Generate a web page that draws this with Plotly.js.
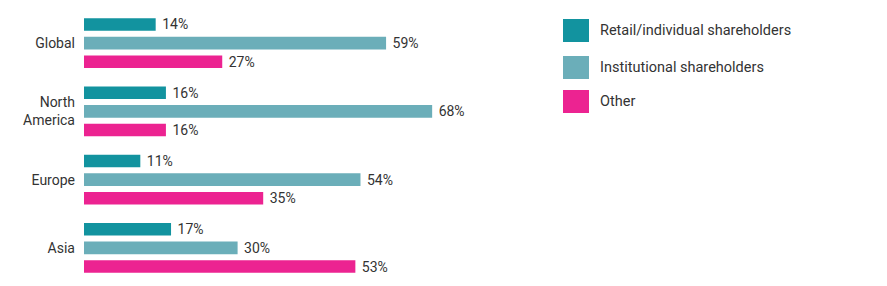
<!DOCTYPE html>
<html>
<head>
<meta charset="utf-8">
<script src="https://cdn.plot.ly/plotly-3.0.1.min.js"></script>
<style>html,body{margin:0;padding:0;background:#fff;}#chart{width:887px;height:286px;}</style>
</head>
<body>
<div id="chart"></div>
<script>
const categories = ["Global", "North<br>America", "Europe", "Asia"];
const seriesNames = ["Retail/individual shareholders", "Institutional shareholders", "Other"];
const retail = [14, 16, 11, 17];
const institutional = [59, 68, 54, 30];
const other = [27, 16, 35, 53];
const colors = ["#12939f", "#6baeb9", "#ec2391"];

const W = 887, H = 286;
const mL = 84, plotW = 384, mT = 9, mB = 4;
const plotH = H - mT - mB;
const px = v => (v - mL) / plotW;
const py = v => (H - mB - v) / plotH;

const values = [retail, institutional, other];
const traces = values.map((vals, i) => ({
  type: 'bar',
  orientation: 'h',
  name: seriesNames[i],
  y: categories,
  x: vals,
  marker: {color: colors[i]},
  text: vals.map(v => ' ' + v + '%'),
  textposition: 'outside',
  constraintext: 'none',
  textfont: {family: 'Roboto, sans-serif', size: 14, color: '#333333'},
  cliponaxis: false,
  hoverinfo: 'skip'
}));

const shapes = [], annotations = [];
const legendY = [19, 56, 90];
seriesNames.forEach((n, i) => {
  shapes.push({type: 'rect', xref: 'paper', yref: 'paper',
    x0: px(563), x1: px(589), y0: py(legendY[i] + 23), y1: py(legendY[i]),
    fillcolor: colors[i], line: {width: 0}});
  annotations.push({xref: 'paper', yref: 'paper', x: px(598), y: py(legendY[i] + 11.5),
    xanchor: 'left', yanchor: 'middle', text: n, showarrow: false,
    font: {family: 'Roboto, sans-serif', size: 14.5, color: '#333333'}});
});

const layout = {
  width: W, height: H,
  margin: {l: mL, r: W - mL - plotW, t: mT, b: mB, pad: 0},
  paper_bgcolor: '#ffffff', plot_bgcolor: '#ffffff',
  barmode: 'group', bargap: 0.18, bargroupgap: 0.32,
  showlegend: false,
  xaxis: {range: [0, 75], visible: false, fixedrange: true},
  yaxis: {autorange: 'reversed', showgrid: false, zeroline: false, showline: false,
    ticks: '', ticklabelstandoff: 8,
    tickfont: {family: 'Roboto, sans-serif', size: 14, color: '#333333'}, fixedrange: true},
  shapes: shapes, annotations: annotations,
  font: {family: 'Roboto, sans-serif'}
};

Plotly.newPlot('chart', traces, layout, {displayModeBar: false, staticPlot: true});
</script>
</body>
</html>
